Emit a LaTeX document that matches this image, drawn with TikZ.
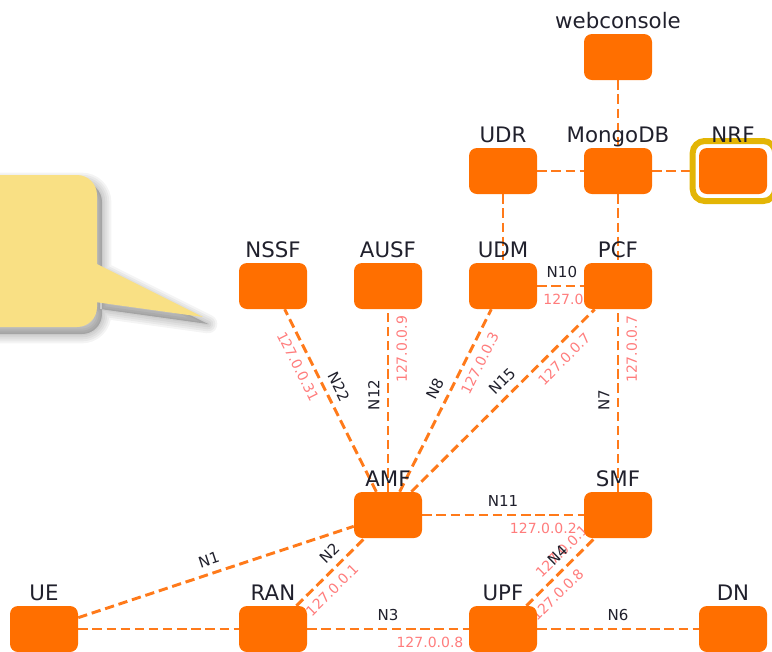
\documentclass[tikz,border=0pt]{standalone}
\usepackage{fontspec}
\setmainfont{DejaVu Sans}
\usetikzlibrary{calc}
\definecolor{nforange}{HTML}{FF6F00}
\definecolor{edgeorange}{HTML}{FF7A1A}
\definecolor{ippink}{HTML}{FF7C7C}
\definecolor{labdark}{HTML}{20202C}
\definecolor{callyellow}{HTML}{F9E084}
\definecolor{ringgold}{HTML}{E3B505}
\pgfdeclarelayer{bg}
\pgfsetlayers{bg,main}
\tikzset{
  nf/.style={rectangle, rounded corners=6pt, fill=nforange, minimum width=51pt, minimum height=34.5pt, inner sep=0pt},
  nflab/.style={font=\fontsize{16}{18}\selectfont, text=labdark, anchor=base, inner sep=0pt},
  edge/.style={draw=edgeorange, line width=2.2pt, dash pattern=on 7pt off 3.6pt},
  nl/.style={font=\fontsize{11.3}{12}\selectfont, text=labdark, inner xsep=0pt, inner ysep=5.3pt},
  ipl/.style={font=\fontsize{10.5}{12}\selectfont, text=ippink, inner xsep=0pt, inner ysep=5.3pt},
  ring/.style={rectangle, draw=ringgold, line width=4.5pt, fill=white, rounded corners=9pt, minimum width=62pt, minimum height=45pt, inner sep=0pt},
}
\newcommand\nfbox[4]{\node[nf] (#1) at (#2,#3) {}; \node[nflab] (#1t) at (#2,#3-29) {#4};}
\begin{document}
\begin{tikzpicture}[x={(0.75pt,0pt)}, y={(0pt,-0.75pt)}]
\useasboundingbox (0,0) rectangle (772,651);
% callout shadow
\begin{scope}[shift={(5,7)}]
  \foreach \w in {14,11,8,5,2}{
    \filldraw[black, opacity=0.045, line width=\w pt, line join=round, rounded corners=15pt]
      (-40,175) rectangle (97,327) [sharp corners] (95,263) -- (203,317) -- (95,302) -- cycle;
  }
\end{scope}
\fill[callyellow, rounded corners=15pt] (-40,175) rectangle (97,327);
\fill[callyellow] (95,263) -- (203,317) -- (95,302) -- cycle;
% nodes
\nfbox{web}{618}{57}{webconsole}
\nfbox{udr}{503}{171}{UDR}
\nfbox{mongo}{618}{171}{MongoDB}
\node[ring] (nrfring) at (734,171) {};
\nfbox{nrf}{733}{171}{NRF}
\nfbox{nssf}{273}{286}{NSSF}
\nfbox{ausf}{388}{286}{AUSF}
\nfbox{udm}{503}{286}{UDM}
\nfbox{pcf}{618}{286}{PCF}
\nfbox{amf}{388}{515}{AMF}
\nfbox{smf}{618}{515}{SMF}
\nfbox{ue}{44}{629}{UE}
\nfbox{ran}{273}{629}{RAN}
\nfbox{upf}{503}{629}{UPF}
\nfbox{dn}{733}{629}{DN}
% edges
\begin{pgfonlayer}{bg}
\draw[edge] (web) -- (mongo);
\draw[edge] (udr) -- (mongo);
\draw[edge] (mongo) -- (nrf);
\draw[edge] (udr) -- (udm);
\draw[edge] (mongo) -- (pcf);
\draw[edge] (udm) -- node[nl,sloped,above,pos=0.53]{N10} node[ipl,sloped,below,pos=0.85]{127.0.0.7} (pcf);
\draw[edge] (amf) -- node[nl,sloped,above,pos=0.54]{N22} node[ipl,sloped,below,pos=0.72]{127.0.0.31} (nssf);
\draw[edge] (amf) -- node[nl,rotate=90,above,pos=0.53]{N12} node[ipl,rotate=90,below,pos=0.78]{127.0.0.9} (ausf);
\draw[edge] (amf) -- node[nl,sloped,above,pos=0.53]{N8} node[ipl,sloped,below,pos=0.74]{127.0.0.3} (udm);
\draw[edge] (amf) -- node[nl,sloped,above,pos=0.55]{N15} node[ipl,sloped,below,pos=0.78]{127.0.0.7} (pcf);
\draw[edge] (smf) -- node[nl,rotate=90,above,pos=0.50]{N7} node[ipl,rotate=90,below,pos=0.78]{127.0.0.7} (pcf);
\draw[edge] (amf) -- node[nl,sloped,above,pos=0.5]{N11} node[ipl,sloped,below,pos=0.75]{127.0.0.2} (smf);
\draw[edge] (ue) -- node[nl,sloped,above,pos=0.49]{N1} (amf);
\draw[edge] (ue) -- (ran);
\draw[edge] (ran) -- node[nl,sloped,above,pos=0.63]{N2} node[ipl,sloped,below,pos=0.38]{127.0.0.1} (amf);
\draw[edge] (ran) -- node[nl,sloped,above,pos=0.5]{N3} node[ipl,sloped,below,pos=0.76]{127.0.0.8} (upf);
\draw[edge] (upf) -- node[nl,sloped,above,pos=0.5]{N6} (dn);
\draw[edge] (upf) -- node[ipl,sloped,above,pos=0.66]{127.0.0.1} node[nl,sloped,above,pos=0.60]{N4} node[ipl,sloped,below,pos=0.31]{127.0.0.8} (smf);
\end{pgfonlayer}
\end{tikzpicture}
\end{document}
